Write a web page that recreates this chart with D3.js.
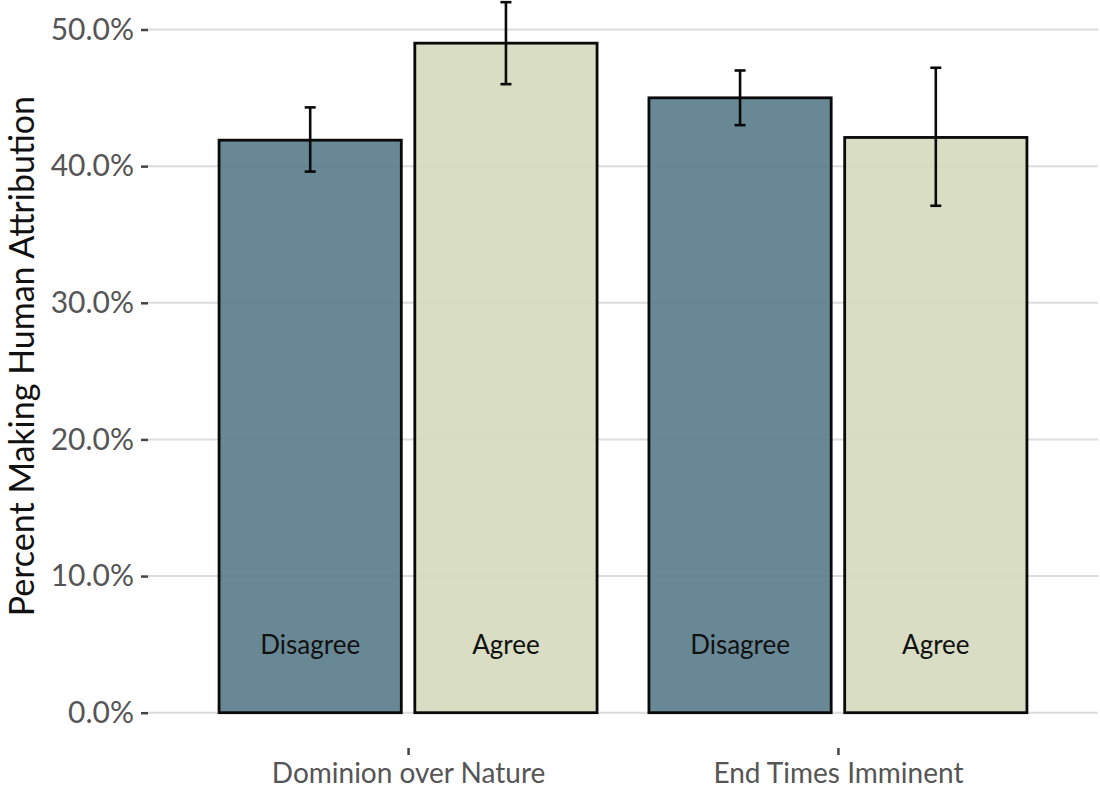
<!DOCTYPE html>
<html><head><meta charset="utf-8">
<script src="https://cdn.jsdelivr.net/npm/d3@7"></script>
<style>body{margin:0;background:#fff}svg{display:block}text{font-family:Lato,"Noto Sans",sans-serif}</style>
</head><body>
<svg id="c" width="1100" height="788"></svg>
<script>
const categories = ["Dominion over Nature", "End Times Imminent"];
const groups = ["Disagree", "Agree"];
const values = [[41.9, 49.0], [45.0, 42.1]];
const errLow = [[39.6, 46.0], [43.0, 37.1]];
const errHigh = [[44.3, 52.0], [47.0, 47.2]];
const yTicks = [0, 10, 20, 30, 40, 50];
const colors = {Disagree: "#597b8a", Agree: "#d4d9be"};

const svg = d3.select("#c");
const y = d3.scaleLinear().domain([0, 50]).range([712.7, 29.5]);
const x = d3.scalePoint().domain(categories).range([148, 1098]).padding(0.605);
const inner = d3.scaleBand().domain(groups).range([-189, 189]).paddingInner(0.069);

// gridlines
svg.append("g").selectAll("line").data(yTicks).join("line")
  .attr("x1", 148).attr("x2", 1098)
  .attr("y1", d => y(d)).attr("y2", d => y(d))
  .attr("stroke", "#dcdcdc").attr("stroke-width", 2);

// y axis
const yAxis = svg.append("g").attr("transform", "translate(148,0)")
  .call(d3.axisLeft(y).tickValues(yTicks).tickFormat(d => d.toFixed(1) + "%").tickSize(7).tickPadding(7));
yAxis.select(".domain").remove();
yAxis.selectAll(".tick line").attr("stroke", "#444").attr("stroke-width", 2.5);
yAxis.selectAll(".tick text").attr("fill", "#555").attr("font-size", 30).style("font-family", "Lato");

// x axis
const xAxis = svg.append("g").attr("transform", "translate(0,748)")
  .call(d3.axisBottom(x).tickSize(7).tickPadding(8));
xAxis.select(".domain").remove();
xAxis.selectAll(".tick line").attr("stroke", "#444").attr("stroke-width", 2.5);
xAxis.selectAll(".tick text").attr("fill", "#555").attr("font-size", 28).style("font-family", "Lato");

// bars
const data = [];
categories.forEach((c, i) => groups.forEach((g, j) => data.push({c, g, v: values[i][j], lo: errLow[i][j], hi: errHigh[i][j]})));

const bars = svg.append("g").selectAll("g").data(data).join("g")
  .attr("transform", d => `translate(${x(d.c)},0)`);
bars.append("rect")
  .attr("x", d => inner(d.g)).attr("width", inner.bandwidth())
  .attr("y", d => y(d.v)).attr("height", d => y(0) - y(d.v))
  .attr("fill", d => colors[d.g]).attr("fill-opacity", 0.9)
  .attr("stroke", "#0a0a0a").attr("stroke-width", 2.8);
bars.append("line")
  .attr("x1", d => inner(d.g) + inner.bandwidth() / 2).attr("x2", d => inner(d.g) + inner.bandwidth() / 2)
  .attr("y1", d => y(d.lo)).attr("y2", d => y(d.hi))
  .attr("stroke", "#0a0a0a").attr("stroke-width", 2.6);
bars.selectAll("line.cap").data(d => [d.lo, d.hi].map(v => ({v, cx: inner(d.g) + inner.bandwidth() / 2}))).join("line")
  .attr("class", "cap")
  .attr("x1", d => d.cx - 5.5).attr("x2", d => d.cx + 5.5)
  .attr("y1", d => y(d.v)).attr("y2", d => y(d.v))
  .attr("stroke", "#0a0a0a").attr("stroke-width", 2.6);
bars.append("text")
  .attr("x", d => inner(d.g) + inner.bandwidth() / 2).attr("y", y(5))
  .attr("text-anchor", "middle").attr("dominant-baseline", "central")
  .attr("font-size", 26).attr("fill", "#111").text(d => d.g);

// y title
svg.append("text").attr("transform", `translate(34,${(y(0) + y(50)) / 2 - 15}) rotate(-90)`)
  .attr("text-anchor", "middle").attr("font-size", 34).attr("fill", "#111")
  .text("Percent Making Human Attribution");
</script>
</body></html>
